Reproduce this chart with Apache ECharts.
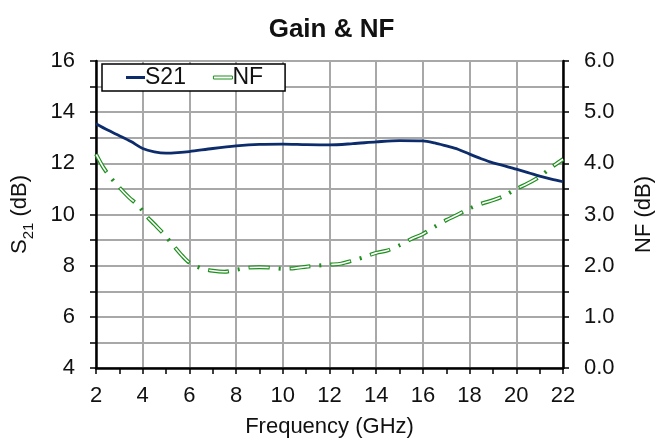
<!DOCTYPE html>
<html>
<head>
<meta charset="utf-8">
<script src="https://cdn.jsdelivr.net/npm/echarts@6/dist/echarts.min.js"></script>
<style>
html,body{margin:0;padding:0;background:#fff;}
#chart{width:663px;height:443px;}
</style>
</head>
<body>
<div id="chart"></div>
<script>
// Frequency (GHz) and S21 gain (dB)
var s21Freq = [2.0,2.5,3.0,3.5,4.0,4.5,5.0,5.5,6.0,7.0,8.0,9.0,10.0,11.0,12.0,13.0,14.0,15.0,16.0,16.5,17.0,17.5,18.0,18.5,19.0,19.5,20.0,20.5,21.0,21.5,22.0];
var s21Vals = [13.55,13.3,13.08,12.85,12.58,12.45,12.40,12.42,12.46,12.58,12.68,12.74,12.75,12.73,12.72,12.77,12.84,12.89,12.88,12.80,12.68,12.55,12.36,12.18,12.02,11.90,11.77,11.64,11.50,11.38,11.28];
// Frequency (GHz) and noise figure (dB)
var nfFreq = [2.0,2.3,2.6,3.0,3.4,3.8,4.2,4.5,4.9,5.3,5.7,6.0,6.5,7.0,7.5,8.0,8.5,9.0,9.5,10.0,10.5,11.0,11.5,12.0,12.5,13.0,13.5,14.0,14.5,15.0,15.5,16.0,16.5,17.0,17.5,18.0,18.5,19.0,19.5,20.0,20.5,21.0,21.5,22.0];
var nfVals = [4.18,3.93,3.74,3.53,3.34,3.18,2.95,2.81,2.62,2.40,2.19,2.06,1.95,1.90,1.88,1.92,1.96,1.97,1.96,1.94,1.95,1.98,2.00,2.02,2.04,2.10,2.17,2.25,2.30,2.40,2.52,2.62,2.76,2.89,3.00,3.12,3.21,3.28,3.37,3.50,3.61,3.74,3.92,4.08];
var titleText = 'Gain & NF';
var xName = 'Frequency (GHz)';

function pairs(xs, ys){ return xs.map(function(x,i){ return [x, ys[i]]; }); }

var FONT = 'Liberation Sans, Arial, sans-serif';
var NAVY = '#0c2c6c';
var GREEN = '#1f8f1f';
var GRID = '#a8a8a8';
var TXT = '#111';
var FS = 22;

var chart = echarts.init(document.getElementById('chart'), null, {renderer:'canvas'});
chart.setOption({
  animation:false,
  backgroundColor:'#fff',
  title:{text:titleText, left:'center', top:12, textStyle:{fontFamily:FONT, fontSize:26, fontWeight:'bold', color:TXT}},
  legend:{
    left:102, top:64, orient:'horizontal',
    padding:[2,22,2,24],
    borderColor:'#000', borderWidth:1.5, backgroundColor:'#fff',
    itemWidth:19, itemHeight:3, itemGap:27,
    textStyle:{fontFamily:FONT, fontSize:23, color:TXT, padding:[0,0,0,-5]},
    data:[
      {name:'S21', icon:'rect', itemStyle:{color:NAVY}},
      {name:'NF', icon:'rect', itemStyle:{color:'#fff', borderColor:GREEN, borderWidth:1}}
    ]
  },
  grid:{left:96, right:90, top:61, bottom:71, containLabel:false},
  xAxis:{
    type:'value', min:2, max:22, interval:2,
    name:xName, nameLocation:'middle', nameGap:48,
    nameTextStyle:{fontFamily:FONT, fontSize:FS, color:TXT},
    axisLine:{show:true, onZero:false, lineStyle:{color:'#000', width:2.5}},
    axisTick:{show:true, length:6, lineStyle:{color:'#000', width:1.5}},
    minorTick:{show:true, splitNumber:2, length:6, lineStyle:{color:'#000', width:1.5}},
    axisLabel:{fontFamily:FONT, fontSize:FS, color:TXT, margin:17},
    splitLine:{show:true, lineStyle:{color:GRID, width:2}}
  },
  yAxis:[{
    type:'value', min:4, max:16, interval:2, position:'left',
    name:'{a|S}{b|21}{a| (dB)}', nameLocation:'middle', nameGap:60, nameRotate:90,
    nameTextStyle:{fontFamily:FONT, fontSize:FS, color:TXT,
      rich:{a:{fontFamily:FONT, fontSize:FS, color:TXT, verticalAlign:'middle', lineHeight:32},
            b:{fontFamily:FONT, fontSize:15, color:TXT, verticalAlign:'bottom', lineHeight:16}}},
    axisLine:{show:true, onZero:false, lineStyle:{color:'#000', width:2.5}},
    axisTick:{show:true, length:6, lineStyle:{color:'#000', width:1.5}},
    minorTick:{show:true, splitNumber:2, length:6, lineStyle:{color:'#000', width:1.5}},
    axisLabel:{fontFamily:FONT, fontSize:FS, color:TXT, margin:21},
    splitLine:{show:true, lineStyle:{color:GRID, width:2}},
    minorSplitLine:{show:true, lineStyle:{color:GRID, width:2}}
  },{
    type:'value', min:0, max:6, interval:1, position:'right',
    name:'NF (dB)', nameLocation:'middle', nameGap:70, nameRotate:90,
    nameTextStyle:{fontFamily:FONT, fontSize:FS, color:TXT},
    axisLine:{show:true, onZero:false, lineStyle:{color:'#000', width:2.5}},
    axisTick:{show:true, length:6, lineStyle:{color:'#000', width:1.5}},
    minorTick:{show:true, splitNumber:2, length:6, lineStyle:{color:'#000', width:1.5}},
    axisLabel:{fontFamily:FONT, fontSize:FS, color:TXT, margin:21, formatter:function(v){return v.toFixed(1);}},
    splitLine:{show:false}
  }],
  series:[
    {name:'S21', type:'line', yAxisIndex:0, data:pairs(s21Freq, s21Vals), smooth:0.3, symbol:'none',
     lineStyle:{color:NAVY, width:2.8}, itemStyle:{color:NAVY}, z:3},
    {name:'NF', type:'line', yAxisIndex:1, data:pairs(nfFreq, nfVals), smooth:0.3, symbol:'none',
     lineStyle:{color:GREEN, width:4, type:[21,9,2,9], cap:'butt'}, itemStyle:{color:GREEN}, z:2},
    {name:'NF_inner', type:'line', yAxisIndex:1, data:pairs(nfFreq, nfVals), smooth:0.3, symbol:'none',
     lineStyle:{color:'#fff', width:1.6, type:[0,1,19,21], cap:'butt'}, itemStyle:{color:'#fff'}, z:2}
  ]
});
</script>
</body>
</html>
